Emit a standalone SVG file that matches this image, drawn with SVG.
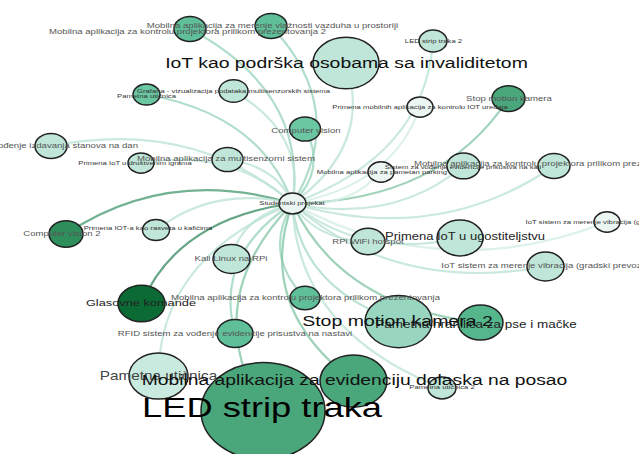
<svg xmlns="http://www.w3.org/2000/svg" width="639" height="454" viewBox="0 0 639 454">
<style>
.e{fill:none;stroke-width:2.2;stroke-opacity:.8;vector-effect:non-scaling-stroke}
.e0{stroke:#d5ede6}.e1{stroke:#bde3d6}.e2{stroke:#aadbc8}.e3{stroke:#9dd6be}.e4{stroke:#86c7a8}.e5{stroke:#4f9d77}.e6{stroke:#3f8e66}
.node circle{stroke:#222;stroke-width:1.5;vector-effect:non-scaling-stroke}
.f0{fill:#ebf6f3}.f1{fill:#bfe6d8}.f1b{fill:#c9ebdf}.f2{fill:#98d6bf}.f3{fill:#5ebf98}.f3b{fill:#6bc6a2}.f4{fill:#4aa67b}.f4b{fill:#55b68c}.f5{fill:#2f8f5c}.f6{fill:#0c6a34}
text{font-family:"Liberation Sans",Arial,sans-serif;text-anchor:middle}
.s{font-size:7.7px;fill:#333}
.m{font-size:9.6px;fill:#555}
.l{font-size:19.4px;fill:#111}
</style>
<rect width="639" height="454" fill="#fff"/>
<g transform="scale(1 0.78)">
<g id="connectors">
<path class="e e3" d="M292.5 260.9Q308.4 118.3 190 37.2"/>
<path class="e e3" d="M292.5 260.9Q350 140.7 271 33.3"/>
<path class="e e1" d="M292.5 260.9Q373.3 186.9 346 80.8"/>
<path class="e e1" d="M292.5 260.9Q425.2 198.9 433 52.6"/>
<path class="e e1" d="M292.5 260.9Q306.3 171.1 233.5 116.7"/>
<path class="e e3" d="M292.5 260.9Q261.4 147.25 146.5 121.2"/>
<path class="e e4" d="M292.5 260.9Q440.9 258.4 508.5 126.3"/>
<path class="e e0" d="M292.5 260.9Q393.35 237.3 420 137.2"/>
<path class="e e3" d="M292.5 260.9Q327.4 216.9 305 165.4"/>
<path class="e e1" d="M292.5 260.9Q193.85 151.6 51 187.2"/>
<path class="e e1" d="M292.5 260.9Q232.35 189.5 141 209"/>
<path class="e e1" d="M292.5 260.9Q276.9 213.2 227.5 204.5"/>
<path class="e e0" d="M292.5 260.9Q348.85 267.25 381 220.5"/>
<path class="e e1" d="M292.5 260.9Q392.4 288.15 463.5 212.8"/>
<path class="e e1" d="M292.5 260.9Q437.65 315.3 554 212.8"/>
<path class="e e5" d="M292.5 260.9Q167.55 212.5 66 300"/>
<path class="e e1" d="M292.5 260.9Q214.05 236.95 156 294.9"/>
<path class="e e0" d="M292.5 260.9Q442.65 367.1 607 284.6"/>
<path class="e e1" d="M292.5 260.9Q315.65 307.9 368 309.6"/>
<path class="e e1" d="M292.5 260.9Q362.95 333.25 460 305.1"/>
<path class="e e1" d="M292.5 260.9Q394.8 377.2 545.5 341.7"/>
<path class="e e1" d="M292.5 260.9Q240.6 278.2 231.5 332.1"/>
<path class="e e6" d="M292.5 260.9Q178.5 279.7 141.5 389.1"/>
<path class="e e3" d="M292.5 260.9Q262.35 325.25 305 382.1"/>
<path class="e e2" d="M292.5 260.9Q300.1 368.35 398.5 412.2"/>
<path class="e e4" d="M292.5 260.9Q340.7 393.6 480.5 413.5"/>
<path class="e e3" d="M292.5 260.9Q213.75 327 235 427.6"/>
<path class="e e1" d="M292.5 260.9Q159.1 331.3 158.5 482.1"/>
<path class="e e4" d="M292.5 260.9Q254.7 393 353.5 488.5"/>
<path class="e e4" d="M292.5 260.9Q197.95 385.05 263 526.9"/>
<path class="e e1" d="M292.5 260.9Q296.3 424 442 497.4"/>
</g>
<g id="nodes">
<g id="n-led-strip" class="node"><circle class="f4" cx="263" cy="526.9" r="62"/></g>
<g id="n-evidencija-posao" class="node"><circle class="f4" cx="353.5" cy="488.5" r="33.5"/></g>
<g id="n-pametna-uticnica" class="node"><circle class="f1b" cx="158.5" cy="482.1" r="29.5"/></g>
<g id="n-pametna-uticnica-2" class="node"><circle class="f1" cx="442" cy="497.4" r="14"/></g>
<g id="n-rfid" class="node"><circle class="f3" cx="235" cy="427.6" r="18"/></g>
<g id="n-stop-motion-2" class="node"><circle class="f2" cx="398.5" cy="412.2" r="33.5"/></g>
<g id="n-hranilica" class="node"><circle class="f4b" cx="480.5" cy="413.5" r="22.5"/></g>
<g id="n-kontrola-projektora" class="node"><circle class="f3" cx="305" cy="382.1" r="15"/></g>
<g id="n-glasovne" class="node"><circle class="f6" cx="141.5" cy="389.1" r="23.5"/></g>
<g id="n-kali" class="node"><circle class="f1" cx="231.5" cy="332.1" r="18.5"/></g>
<g id="n-vibracije" class="node"><circle class="f1" cx="545.5" cy="341.7" r="18.5"/></g>
<g id="n-ugostiteljstvo" class="node"><circle class="f1" cx="460" cy="305.1" r="23"/></g>
<g id="n-rpi-wifi" class="node"><circle class="f1" cx="368" cy="309.6" r="17"/></g>
<g id="n-vibracije-2" class="node"><circle class="f0" cx="607" cy="284.6" r="13"/></g>
<g id="n-rasveta-kafici" class="node"><circle class="f1" cx="156" cy="294.9" r="13.5"/></g>
<g id="n-computer-vision-2" class="node"><circle class="f5" cx="66" cy="300" r="17"/></g>
<g id="n-kontrola-projektora-3" class="node"><circle class="f1" cx="554" cy="212.8" r="16"/></g>
<g id="n-vodjenje-sala" class="node"><circle class="f1" cx="463.5" cy="212.8" r="16.5"/></g>
<g id="n-parking" class="node"><circle class="f0" cx="381" cy="220.5" r="13"/></g>
<g id="n-multisenzorni" class="node"><circle class="f1" cx="227.5" cy="204.5" r="15.5"/></g>
<g id="n-drustvene-igre" class="node"><circle class="f1" cx="141" cy="209" r="13"/></g>
<g id="n-izdavanje-stanova" class="node"><circle class="f1" cx="51" cy="187.2" r="16"/></g>
<g id="n-computer-vision" class="node"><circle class="f3b" cx="305" cy="165.4" r="15.5"/></g>
<g id="n-mobilne-iot" class="node"><circle class="f0" cx="420" cy="137.2" r="13"/></g>
<g id="n-stop-motion" class="node"><circle class="f4" cx="508.5" cy="126.3" r="16.5"/></g>
<g id="n-pametna-uticnica-1" class="node"><circle class="f3b" cx="146.5" cy="121.2" r="13.5"/></g>
<g id="n-grafana" class="node"><circle class="f1" cx="233.5" cy="116.7" r="14.5"/></g>
<g id="n-led-strip-2" class="node"><circle class="f1" cx="433" cy="52.6" r="14"/></g>
<g id="n-iot-invaliditet" class="node"><circle class="f1" cx="346" cy="80.8" r="33"/></g>
<g id="n-vlaznost" class="node"><circle class="f3" cx="271" cy="33.3" r="16"/></g>
<g id="n-kontrola-projektora-2" class="node"><circle class="f3" cx="190" cy="37.2" r="16"/></g>
<g id="n-studentski" class="node"><circle class="f0" cx="292.5" cy="260.9" r="13.5"/></g>
</g>
<g id="labels">
<text class="s" x="433.5" y="55.2">LED strip traka 2</text>
<text class="s" x="233.5" y="119.3">Grafana - vizualizacija podataka multisenzorskih sistema</text>
<text class="s" x="146.5" y="125.7">Pametna utičnica</text>
<text class="s" x="420" y="139.8">Primena mobilnih aplikacija za kontrolu IOT uređaja</text>
<text class="s" x="135" y="211.6">Primena IoT u društvenim igrama</text>
<text class="s" x="382" y="223.1">Mobilna aplikacija za pametan parking</text>
<text class="s" x="463" y="216.7">Sistem za vođenje evidencije prisustva na sali</text>
<text class="s" x="292" y="262.9">Studentski projekat</text>
<text class="s" x="148" y="294.9">Primena IOT-a kao rasveta u kafićima</text>
<text class="s" x="607" y="287.2">IoT sistem za merenje vibracija (gradski prevoz)</text>
<text class="s" x="442" y="498.8">Pametna utičnica 2</text>
<text class="m" x="187.5" y="43">Mobilna aplikacija za kontrolu projektora prilikom prezentovanja 2</text>
<text class="m" x="272.5" y="35.3">Mobilna aplikacija za merenje vlažnosti vazduha u prostoriji</text>
<text class="m" x="509" y="128.9">Stop motion kamera</text>
<text class="m" x="306" y="170">Computer vision</text>
<text class="m" x="138" y="189.2" style="text-anchor:end">Sistem za vođenje izdavanja stanova na dan</text>
<text class="m" x="226" y="205.9">Mobilna aplikacija za multisenzorni sistem</text>
<text class="m" x="414" y="212.3" style="text-anchor:start">Mobilna aplikacija za kontrolu projektora prilikom prezentovanja</text>
<text class="m" x="62" y="302">Computer vision 2</text>
<text class="m" x="368" y="312.3">RPi WiFi hotspot</text>
<text class="m" x="543" y="343">IoT sistem za merenje vibracija (gradski prevoz)</text>
<text class="m" x="231" y="334.1">Kali Linux na RPi</text>
<text class="m" x="305.5" y="384.1">Mobilna aplikacija za kontrolu projektora prilikom prezentovanja</text>
<text class="m" x="235" y="430.2">RFID sistem za vođenje evidencije prisustva na nastavi</text>
<text x="141" y="392.9" style="font-size:12.8px;fill:#222">Glasovne komande</text>
<text x="465" y="308.2" style="font-size:13px;fill:#222">Primena IoT u ugostiteljstvu</text>
<text x="476" y="420" style="font-size:13.5px;fill:#222">Pametna hranilica za pse i mačke</text>
<text x="158.5" y="487.3" style="font-size:15.3px;fill:#444">Pametna utičnica</text>
<text class="l" x="346.5" y="87.4">IoT kao podrška osobama sa invaliditetom</text>
<text class="l" x="397.5" y="418.1" style="font-size:19.5px">Stop motion kamera 2</text>
<text class="l" x="354.5" y="493.8" style="font-size:19.3px">Mobilna aplikacija za evidenciju dolaska na posao</text>
<text x="262" y="534.1" style="font-size:36.3px;fill:#000">LED strip traka</text>
</g>
</g>
</svg>
